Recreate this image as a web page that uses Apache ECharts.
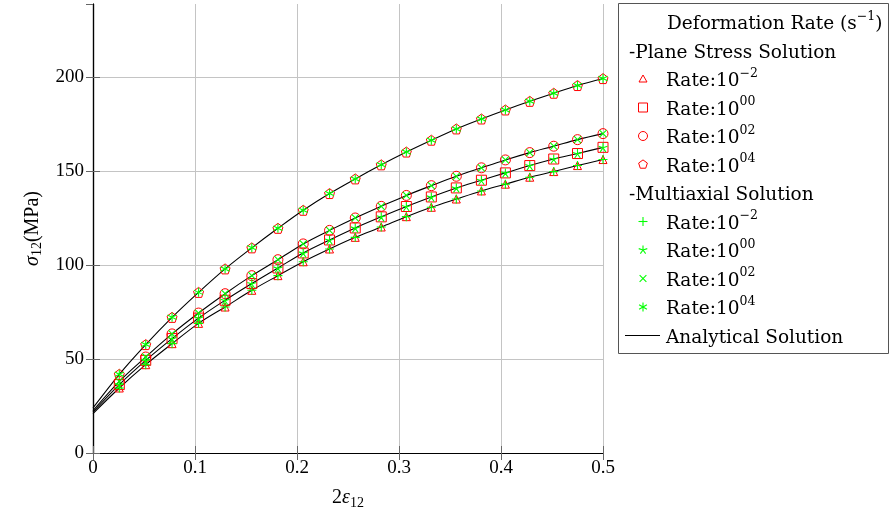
<!DOCTYPE html>
<html><head><meta charset="utf-8">
<script src="https://cdn.jsdelivr.net/npm/echarts@6/dist/echarts.min.js"></script>
<style>html,body{margin:0;padding:0;background:#fff}#c{width:890px;height:516px}</style>
</head><body><div id="c"></div>
<script>
// ---- data ----
const strain = [0.0258, 0.0517, 0.0775, 0.1035, 0.1295, 0.1557, 0.1813, 0.2061, 0.2319, 0.2571,
                0.2826, 0.3072, 0.3317, 0.3562, 0.3808, 0.4043, 0.4282, 0.4517, 0.4750, 0.5];
const rateM2 = [34.6, 47.0, 58.2, 69.0, 77.7, 86.6, 94.4, 101.8, 108.6, 114.8,
                120.3, 125.8, 130.8, 135.2, 139.5, 143.1, 146.8, 149.8, 153.0, 156.2];
const rate00 = [36.4, 49.3, 60.9, 71.8, 81.3, 90.2, 98.5, 106.5, 113.4, 119.8,
                125.7, 131.2, 136.3, 141.1, 145.2, 149.1, 153.0, 156.5, 159.4, 162.7];
const rate02 = [38.1, 51.1, 63.4, 74.5, 84.8, 94.4, 102.9, 111.3, 118.5, 125.1,
                131.3, 137.1, 142.3, 147.3, 151.8, 156.0, 159.9, 163.3, 166.8, 170.0];
const rate04 = [41.9, 57.7, 72.2, 85.5, 98.0, 109.2, 119.6, 129.2, 138.1, 145.9,
                153.4, 160.2, 166.5, 172.5, 177.8, 182.6, 187.2, 191.5, 195.6, 199.3];
const analyticStart = [21.0, 21.8, 22.5, 24.0];   // σ12 at 2ε12 = 0 for each rate
const rateExp = ['−2', '00', '02', '04'];
const xTicks = ['0', '0.1', '0.2', '0.3', '0.4', '0.5'];
const legendTitle = 'Deformation Rate (s';
const legendTitleSup = '−1';
const groupHeaders = ['-Plane Stress Solution', '-Multiaxial Solution'];
const analyticalLabel = 'Analytical Solution';

// ---- styling ----
const FONT = 'Liberation Serif';
const LFONT = 'DejaVu Serif';
const RED = '#ff0000', GREEN = '#00ff00';
const rateSeries = [rateM2, rate00, rate02, rate04];
const redSymbols = [
  ['triangle', 8],
  ['rect', 10],
  ['circle', 10],
  ['path://M0,-1L0.951,-0.309L0.588,0.809L-0.588,0.809L-0.951,-0.309Z', 10]
];
const greenSymbols = [
  ['path://M0,-1L0,1M-1,0L1,0', 9],
  ['path://M0,0L0,-1M0,0L0.951,-0.309M0,0L0.588,0.809M0,0L-0.588,0.809M0,0L-0.951,-0.309', 9],
  ['path://M-1,-1L1,1M-1,1L1,-1', 7],
  ['path://M0,-1L0,1M-0.866,-0.5L0.866,0.5M-0.866,0.5L0.866,-0.5', 9]
];

const pairs = vals => strain.map((x, i) => [x, vals[i]]);
const series = [];
rateSeries.forEach((vals, k) => {
  series.push({
    type: 'line', name: 'Analytical ' + rateExp[k], smooth: 0.35, showSymbol: false, symbol: 'none',
    data: [[0, analyticStart[k]]].concat(pairs(vals)),
    lineStyle: {color: '#000', width: 1.1}, z: 2, silent: true
  });
});
rateSeries.forEach((vals, k) => {
  series.push({
    type: 'scatter', name: 'Plane Stress Rate:10^' + rateExp[k], data: pairs(vals),
    symbol: redSymbols[k][0], symbolSize: redSymbols[k][1],
    itemStyle: {color: 'transparent', borderColor: RED, borderWidth: 1, opacity: 1}, z: 3, silent: true
  });
});
rateSeries.forEach((vals, k) => {
  series.push({
    type: 'scatter', name: 'Multiaxial Rate:10^' + rateExp[k], data: pairs(vals),
    symbol: greenSymbols[k][0], symbolSize: greenSymbols[k][1],
    itemStyle: {color: 'transparent', borderColor: GREEN, borderWidth: 1.1, opacity: 1}, z: 4, silent: true
  });
});

// ---- legend built as graphic ----
const rowY = i => 22 + 28.5 * i;
const txtRich = {
  b: {fontFamily: LFONT, fontSize: 18.5, color: '#000', verticalAlign: 'bottom', lineHeight: 24},
  sup: {fontFamily: LFONT, fontSize: 12.5, color: '#000', verticalAlign: 'top', lineHeight: 12}
};
function legText(x, y, str) {
  return {type: 'text', x: x, y: y, style: {text: str, rich: txtRich, textVerticalAlign: 'middle', fill: '#000', font: '18.5px ' + LFONT}};
}
const g = [];
g.push({type: 'rect', shape: {x: 618.5, y: 3.5, width: 270, height: 350}, style: {fill: '#fff', stroke: '#555', lineWidth: 1}});
g.push(legText(667, rowY(0), '{b|' + legendTitle + '}{sup|' + legendTitleSup + '}{b|)}'));
g.push(legText(629, rowY(1), '{b|' + groupHeaders[0] + '}'));
g.push(legText(629, rowY(6), '{b|' + groupHeaders[1] + '}'));
const ix = 643;
for (let k = 0; k < 4; k++) {
  const y = rowY(2 + k);
  g.push(legText(666, y, '{b|Rate:10}{sup|' + rateExp[k] + '}'));
  const st = {fill: 'none', stroke: RED, lineWidth: 1};
  if (k === 0) g.push({type: 'polygon', shape: {points: [[ix, y - 4], [ix + 4, y + 3], [ix - 4, y + 3]]}, style: st});
  if (k === 1) g.push({type: 'rect', shape: {x: ix - 4.5, y: y - 4.5, width: 9, height: 9}, style: st});
  if (k === 2) g.push({type: 'circle', shape: {cx: ix, cy: y, r: 4.5}, style: st});
  if (k === 3) g.push({type: 'polygon', shape: {points: [[0, -1], [0.951, -0.309], [0.588, 0.809], [-0.588, 0.809], [-0.951, -0.309]].map(p => [ix + 4.6 * p[0], y + 4.6 * p[1]])}, style: st});
}
const spokes = [
  [[0, -1, 0, 1], [-1, 0, 1, 0]],
  [[0, 0, 0, -1], [0, 0, 0.951, -0.309], [0, 0, 0.588, 0.809], [0, 0, -0.588, 0.809], [0, 0, -0.951, -0.309]],
  [[-0.75, -0.75, 0.75, 0.75], [-0.75, 0.75, 0.75, -0.75]],
  [[0, -1, 0, 1], [-0.866, -0.5, 0.866, 0.5], [-0.866, 0.5, 0.866, -0.5]]
];
for (let k = 0; k < 4; k++) {
  const y = rowY(7 + k);
  g.push(legText(666, y, '{b|Rate:10}{sup|' + rateExp[k] + '}'));
  spokes[k].forEach(s => g.push({type: 'line', shape: {x1: ix + 4.5 * s[0], y1: y + 4.5 * s[1], x2: ix + 4.5 * s[2], y2: y + 4.5 * s[3]}, style: {stroke: GREEN, lineWidth: 1.1}}));
}
g.push({type: 'line', shape: {x1: 625, y1: rowY(11), x2: 660, y2: rowY(11)}, style: {stroke: '#000', lineWidth: 1.1}});
g.push(legText(666, rowY(11), '{b|' + analyticalLabel + '}'));

const axisCommon = {
  axisLine: {show: true, lineStyle: {color: '#000', width: 1.2}},
  axisTick: {show: true, inside: true, length: 7, lineStyle: {color: '#666', width: 1}},
};
const nameRich = {
  i: {fontFamily: FONT, fontStyle: 'italic', fontSize: 20, verticalAlign: 'top', lineHeight: 22},
  n: {fontFamily: FONT, fontSize: 20, verticalAlign: 'top', lineHeight: 22},
  sub: {fontFamily: FONT, fontSize: 14, verticalAlign: 'bottom', lineHeight: 14}
};
const option = {
  animation: false,
  backgroundColor: '#fff',
  grid: {left: 93, right: 287, top: 4, bottom: 63, show: false},
  xAxis: [
    Object.assign({type: 'value', min: 0, max: 0.5, interval: 0.1, position: 'bottom',
      axisLabel: {fontFamily: FONT, fontSize: 19, color: '#000', margin: 6, formatter: v => xTicks[Math.round(v * 10)]},
      splitLine: {show: true, lineStyle: {color: '#c4c4c4', width: 1}},
      name: '{n|2}{i|ε}{sub|12}', nameLocation: 'middle', nameGap: 35,
      nameTextStyle: {fontFamily: FONT, fontSize: 20, color: '#000', rich: nameRich}
    }, axisCommon),
    Object.assign({type: 'value', min: 0, max: 0.5, interval: 0.1, position: 'top',
      axisLabel: {show: false}, splitLine: {show: false}}, axisCommon)
  ],
  yAxis: [
    Object.assign({type: 'value', min: 0, max: 239, interval: 50, position: 'left',
      axisLabel: {fontFamily: FONT, fontSize: 19, color: '#000', margin: 9, showMaxLabel: false},
      splitLine: {show: true, showMaxLine: false, lineStyle: {color: '#c4c4c4', width: 1}},
      name: '{i|σ}{sub|12}{n|(MPa)}', nameLocation: 'middle', nameGap: 42, nameRotate: 90,
      nameTextStyle: {fontFamily: FONT, fontSize: 20, color: '#000', rich: nameRich}
    }, axisCommon),
    Object.assign({type: 'value', min: 0, max: 239, interval: 50, position: 'right',
      axisLabel: {show: false}, splitLine: {show: false}}, axisCommon)
  ],
  series: series,
  graphic: g
};
const chart = echarts.init(document.getElementById('c'), null, {renderer: 'canvas'});
chart.setOption(option);
</script></body></html>
